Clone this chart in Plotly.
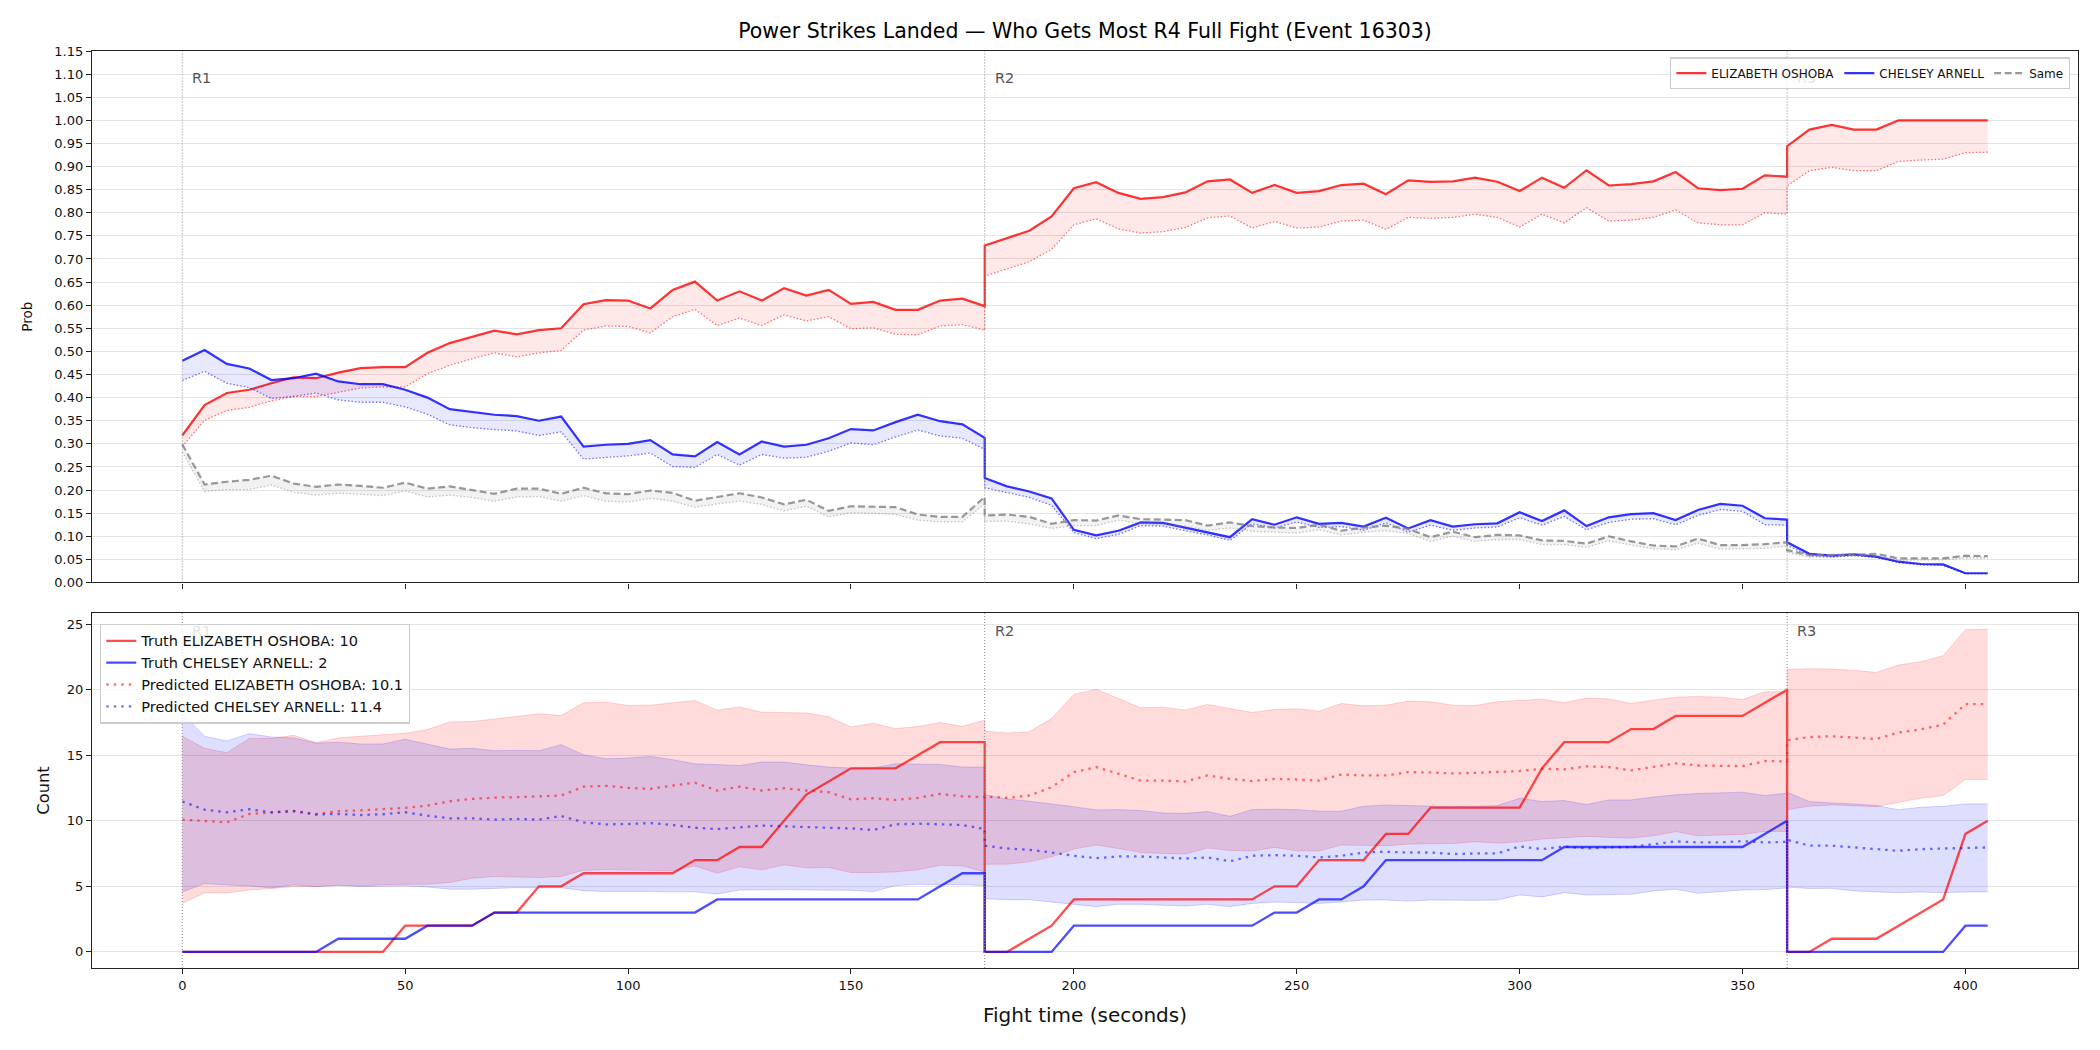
import plotly.graph_objects as go

# ---------------- time axis (seconds) per round ----------------
T_R1 = [0, 5, 10, 15, 20, 25, 30, 35, 40, 45, 50, 55, 60, 65, 70, 75, 80, 85, 90, 95, 100,
        105, 110, 115, 120, 125, 130, 135, 140, 145, 150, 155, 160, 165, 170, 175, 180]
T_R2 = [180, 185, 190, 195, 200, 205, 210, 215, 220, 225, 230, 235, 240, 245, 250, 255, 260,
        265, 270, 275, 280, 285, 290, 295, 300, 305, 310, 315, 320, 325, 330, 335, 340, 345,
        350, 355, 360]
T_R3 = [360, 365, 370, 375, 380, 385, 390, 395, 400, 405]
ROUND_STARTS = [0, 180, 360]
ROUND_LABELS = ["R1", "R2", "R3"]

RED_NAME = "ELIZABETH OSHOBA"
BLUE_NAME = "CHELSEY ARNELL"

# ---------------- top panel: probabilities ----------------
p_red_truth = ([0.318, 0.384, 0.410, 0.417, 0.431, 0.444, 0.442, 0.454, 0.464, 0.466, 0.466, 0.497,
                0.518, 0.531, 0.545, 0.537, 0.546, 0.550, 0.602, 0.611, 0.610, 0.593, 0.633, 0.651,
                0.610, 0.630, 0.610, 0.637, 0.621, 0.633, 0.603, 0.607, 0.590, 0.590, 0.610, 0.614, 0.598]
               + [0.729, 0.745, 0.761, 0.792, 0.853, 0.866, 0.843, 0.830, 0.834, 0.844, 0.868, 0.872,
                  0.843, 0.860, 0.843, 0.847, 0.860, 0.863, 0.840, 0.870, 0.867, 0.868, 0.876, 0.867,
                  0.847, 0.876, 0.854, 0.892, 0.859, 0.862, 0.868, 0.888, 0.853, 0.849, 0.852, 0.881, 0.878]
               + [0.944, 0.980, 0.990, 0.980, 0.980, 1.000, 1.000, 1.000, 1.000, 1.000])
p_red_pred = ([0.294, 0.351, 0.372, 0.379, 0.393, 0.402, 0.402, 0.412, 0.421, 0.423, 0.423, 0.452,
               0.470, 0.484, 0.497, 0.488, 0.497, 0.502, 0.546, 0.555, 0.554, 0.540, 0.575, 0.591,
               0.556, 0.572, 0.556, 0.579, 0.566, 0.575, 0.549, 0.551, 0.537, 0.536, 0.555, 0.558, 0.546]
              + [0.663, 0.678, 0.694, 0.721, 0.774, 0.787, 0.765, 0.756, 0.759, 0.768, 0.789, 0.793,
                 0.767, 0.781, 0.767, 0.769, 0.782, 0.784, 0.764, 0.790, 0.788, 0.790, 0.797, 0.790,
                 0.769, 0.797, 0.778, 0.811, 0.782, 0.784, 0.790, 0.806, 0.778, 0.774, 0.774, 0.800, 0.797]
              + [0.858, 0.891, 0.898, 0.891, 0.891, 0.911, 0.914, 0.916, 0.930, 0.931])
p_blue_truth = ([0.480, 0.503, 0.473, 0.463, 0.438, 0.442, 0.452, 0.435, 0.429, 0.429, 0.417, 0.400,
                 0.375, 0.369, 0.363, 0.360, 0.350, 0.359, 0.294, 0.298, 0.300, 0.308, 0.277, 0.273,
                 0.304, 0.277, 0.305, 0.294, 0.298, 0.312, 0.332, 0.329, 0.347, 0.363, 0.349, 0.342, 0.313]
                + [0.226, 0.208, 0.197, 0.182, 0.114, 0.102, 0.112, 0.130, 0.129, 0.119, 0.108, 0.098,
                   0.137, 0.125, 0.141, 0.127, 0.129, 0.121, 0.140, 0.117, 0.135, 0.121, 0.126, 0.128,
                   0.152, 0.133, 0.156, 0.122, 0.141, 0.148, 0.150, 0.135, 0.157, 0.170, 0.166, 0.139, 0.136]
                + [0.087, 0.062, 0.058, 0.061, 0.056, 0.045, 0.040, 0.039, 0.020, 0.020])
p_blue_pred = ([0.437, 0.457, 0.431, 0.422, 0.398, 0.403, 0.410, 0.395, 0.390, 0.390, 0.380, 0.364,
                0.341, 0.335, 0.331, 0.328, 0.318, 0.326, 0.267, 0.271, 0.274, 0.280, 0.251, 0.249,
                0.277, 0.254, 0.277, 0.269, 0.271, 0.284, 0.302, 0.298, 0.315, 0.330, 0.317, 0.312, 0.288]
               + [0.205, 0.195, 0.184, 0.167, 0.108, 0.095, 0.104, 0.123, 0.122, 0.112, 0.103, 0.091,
                  0.127, 0.118, 0.131, 0.119, 0.121, 0.113, 0.129, 0.109, 0.124, 0.113, 0.118, 0.120,
                  0.140, 0.124, 0.143, 0.114, 0.130, 0.137, 0.138, 0.125, 0.145, 0.158, 0.154, 0.125, 0.124]
               + [0.080, 0.058, 0.055, 0.058, 0.054, 0.043, 0.038, 0.037, 0.019, 0.019])
p_same_truth = ([0.299, 0.212, 0.218, 0.222, 0.231, 0.214, 0.207, 0.212, 0.209, 0.205, 0.216, 0.203,
                 0.208, 0.200, 0.192, 0.203, 0.203, 0.192, 0.205, 0.193, 0.191, 0.199, 0.194, 0.177,
                 0.185, 0.193, 0.184, 0.169, 0.179, 0.155, 0.165, 0.164, 0.163, 0.147, 0.142, 0.142, 0.185]
                + [0.145, 0.147, 0.142, 0.127, 0.135, 0.134, 0.145, 0.137, 0.136, 0.135, 0.123, 0.130,
                   0.122, 0.119, 0.118, 0.125, 0.112, 0.119, 0.123, 0.116, 0.098, 0.110, 0.098, 0.103,
                   0.102, 0.091, 0.090, 0.084, 0.100, 0.089, 0.080, 0.078, 0.095, 0.081, 0.081, 0.083, 0.087]
                + [0.070, 0.059, 0.059, 0.060, 0.062, 0.052, 0.052, 0.052, 0.058, 0.057])
p_same_pred = ([0.283, 0.197, 0.201, 0.201, 0.211, 0.195, 0.189, 0.193, 0.191, 0.188, 0.198, 0.185,
                0.189, 0.184, 0.176, 0.185, 0.186, 0.176, 0.188, 0.176, 0.174, 0.182, 0.176, 0.163,
                0.170, 0.176, 0.169, 0.155, 0.165, 0.142, 0.151, 0.150, 0.147, 0.135, 0.131, 0.131, 0.170]
               + [0.132, 0.133, 0.127, 0.117, 0.123, 0.123, 0.135, 0.127, 0.124, 0.122, 0.113, 0.118,
                  0.111, 0.109, 0.107, 0.114, 0.103, 0.109, 0.112, 0.106, 0.089, 0.100, 0.089, 0.093,
                  0.093, 0.082, 0.082, 0.076, 0.090, 0.081, 0.073, 0.071, 0.085, 0.072, 0.073, 0.074, 0.079]
               + [0.065, 0.055, 0.055, 0.058, 0.057, 0.048, 0.049, 0.049, 0.053, 0.053])

# ---------------- bottom panel: counts ----------------
c_red_truth = ([0, 0, 0, 0, 0, 0, 0, 0, 0, 0, 2, 2, 2, 2, 3, 3, 5, 5, 6, 6, 6, 6, 6, 7, 7, 8, 8, 10,
                12, 13, 14, 14, 14, 15, 16, 16, 16]
               + [0, 0, 1, 2, 4, 4, 4, 4, 4, 4, 4, 4, 4, 5, 5, 7, 7, 7, 9, 9, 11, 11, 11, 11, 11, 14,
                  16, 16, 16, 17, 17, 18, 18, 18, 18, 19, 20]
               + [0, 0, 1, 1, 1, 2, 3, 4, 9, 10])
c_blue_truth = ([0, 0, 0, 0, 0, 0, 0, 1, 1, 1, 1, 2, 2, 2, 3, 3, 3, 3, 3, 3, 3, 3, 3, 3, 4, 4, 4, 4,
                 4, 4, 4, 4, 4, 4, 5, 6, 6]
                + [0, 0, 0, 0, 2, 2, 2, 2, 2, 2, 2, 2, 2, 3, 3, 4, 4, 5, 7, 7, 7, 7, 7, 7, 7, 7, 8,
                   8, 8, 8, 8, 8, 8, 8, 8, 9, 10]
                + [0, 0, 0, 0, 0, 0, 0, 0, 2, 2])
c_red_pred = ([10.09, 10.0, 9.88, 10.52, 10.65, 10.75, 10.52, 10.73, 10.80, 10.9, 10.98, 11.16, 11.49,
               11.67, 11.77, 11.8, 11.87, 11.93, 12.6, 12.67, 12.51, 12.44, 12.69, 12.9, 12.31, 12.6,
               12.31, 12.49, 12.31, 12.18, 11.64, 11.72, 11.59, 11.75, 12.05, 11.87, 11.8]
              + [11.85, 11.75, 11.93, 12.56, 13.71, 14.1, 13.59, 13.07, 13.07, 13.0, 13.46, 13.2, 13.02,
                 13.2, 13.15, 13.07, 13.53, 13.46, 13.46, 13.71, 13.69, 13.61, 13.66, 13.71, 13.79,
                 13.97, 13.92, 14.15, 14.1, 13.84, 14.1, 14.38, 14.22, 14.22, 14.17, 14.56, 14.53]
              + [16.14, 16.39, 16.45, 16.37, 16.24, 16.73, 16.98, 17.34, 18.9, 18.9])
c_blue_pred = ([11.47, 10.85, 10.65, 10.88, 10.65, 10.73, 10.47, 10.52, 10.44, 10.5, 10.65, 10.39,
                10.19, 10.19, 10.09, 10.14, 10.09, 10.37, 9.88, 9.73, 9.75, 9.83, 9.68, 9.47, 9.37,
                9.5, 9.63, 9.58, 9.5, 9.47, 9.42, 9.3, 9.73, 9.78, 9.73, 9.68, 9.37]
               + [8.1, 7.89, 7.79, 7.58, 7.33, 7.15, 7.28, 7.28, 7.18, 7.12, 7.2, 6.92, 7.33, 7.38,
                  7.33, 7.2, 7.33, 7.58, 7.64, 7.58, 7.58, 7.46, 7.51, 7.51, 8.04, 7.84, 8.04, 7.89,
                  7.97, 7.99, 8.22, 8.43, 8.35, 8.35, 8.45, 8.35, 8.4]
               + [8.55, 8.1, 8.1, 7.97, 7.84, 7.71, 7.84, 7.89, 7.97, 7.97])
c_red_hi = ([16.45, 15.53, 15.19, 16.27, 16.29, 16.52, 15.96, 16.32, 16.45, 16.57, 16.68, 16.96,
             17.54, 17.57, 17.75, 17.93, 18.16, 18.03, 19.0, 19.05, 18.8, 18.82, 19.0, 19.18, 18.44,
             18.69, 18.28, 18.28, 18.23, 17.93, 17.16, 17.44, 17.03, 17.19, 17.49, 17.21, 17.67]
            + [16.83, 16.7, 16.8, 17.8, 19.64, 20.02, 19.33, 18.62, 18.67, 18.44, 18.87, 18.56, 18.26,
               18.49, 18.54, 18.36, 18.95, 18.77, 18.82, 19.13, 19.08, 18.82, 18.8, 19.08, 19.18,
               19.28, 19.0, 19.36, 19.3, 18.95, 19.2, 19.43, 19.48, 19.43, 19.25, 19.84, 19.84]
            + [21.55, 21.6, 21.58, 21.48, 21.32, 21.88, 22.14, 22.6, 24.57, 24.62])
c_red_lo = ([3.70, 4.52, 4.49, 4.72, 4.83, 4.98, 4.98, 5.08, 5.03, 5.13, 5.16, 5.16, 5.29, 5.62,
             5.75, 5.69, 5.67, 5.75, 6.23, 6.28, 6.23, 6.2, 6.18, 6.56, 6.0, 6.49, 6.26, 6.64, 6.41,
             6.44, 6.05, 6.05, 6.1, 6.26, 6.61, 6.56, 6.1]
            + [6.69, 6.69, 6.87, 7.25, 7.84, 8.15, 7.89, 7.58, 7.51, 7.46, 7.92, 7.74, 7.69, 7.97,
               7.71, 7.69, 8.15, 8.15, 8.1, 8.22, 8.22, 8.27, 8.4, 8.3, 8.4, 8.61, 8.71, 8.81, 8.73,
               8.68, 8.86, 9.17, 8.86, 8.91, 8.96, 9.19, 9.19]
            + [10.85, 11.11, 11.21, 11.16, 11.08, 11.41, 11.72, 11.93, 13.15, 13.15])
c_blue_hi = ([18.18, 16.45, 16.09, 16.65, 16.39, 16.32, 15.93, 15.99, 15.86, 15.86, 16.22, 15.86,
              15.47, 15.53, 15.35, 15.37, 15.35, 15.81, 15.04, 14.73, 14.79, 14.91, 14.66, 14.35,
              14.3, 14.22, 14.48, 14.48, 14.27, 14.1, 14.02, 14.04, 14.35, 14.35, 14.3, 14.1, 14.1]
             + [11.98, 11.67, 11.49, 11.29, 11.08, 10.83, 10.85, 10.78, 10.6, 10.57, 10.7, 10.34,
                10.85, 10.88, 10.85, 10.73, 10.73, 11.11, 11.21, 11.16, 11.11, 11.08, 11.11, 11.16,
                11.72, 11.47, 11.54, 11.24, 11.59, 11.59, 11.82, 11.98, 12.08, 12.13, 12.18, 11.93, 12.1]
             + [12.18, 11.47, 11.36, 11.29, 11.16, 10.85, 11.03, 11.11, 11.29, 11.29])
c_blue_lo = ([4.57, 5.21, 5.11, 5.03, 4.88, 5.11, 4.98, 5.08, 4.98, 5.0, 5.03, 4.95, 4.78, 4.78,
              4.83, 4.9, 4.88, 4.9, 4.67, 4.6, 4.6, 4.6, 4.6, 4.58, 4.42, 4.72, 4.72, 4.75, 4.72,
              4.72, 4.7, 4.6, 5.06, 5.16, 5.11, 5.13, 5.06]
             + [4.06, 3.98, 3.98, 3.8, 3.63, 3.45, 3.63, 3.63, 3.55, 3.5, 3.63, 3.45, 3.7, 3.8, 3.75,
                3.7, 3.8, 3.96, 3.96, 3.88, 3.96, 3.93, 3.93, 3.96, 4.34, 4.19, 4.52, 4.34, 4.34,
                4.39, 4.65, 4.78, 4.47, 4.62, 4.72, 4.75, 4.88]
             + [4.95, 4.83, 4.85, 4.65, 4.57, 4.52, 4.57, 4.52, 4.57, 4.57])

RED_TRUTH_FINAL = 10
BLUE_TRUTH_FINAL = 2
RED_PRED_LABEL = 10.1
BLUE_PRED_LABEL = 11.4

T = T_R1 + T_R2 + T_R3
FONT = "DejaVu Sans"

fig = go.Figure()

# ---- top panel ----
def prob_series(truth, pred, color_line, color_pred, color_fill, name, truth_dash, truth_w):
    fig.add_trace(go.Scatter(x=T, y=pred, mode="lines", xaxis="x", yaxis="y",
                             line=dict(color=color_pred, width=1.3, dash="1.5px,2px"),
                             showlegend=False, hoverinfo="skip"))
    fig.add_trace(go.Scatter(x=T, y=truth, mode="lines", xaxis="x", yaxis="y",
                             line=dict(width=0), fill="tonexty", fillcolor=color_fill,
                             showlegend=False, hoverinfo="skip"))
    fig.add_trace(go.Scatter(x=T, y=truth, mode="lines", xaxis="x", yaxis="y", name=name,
                             line=dict(color=color_line, width=truth_w, dash=truth_dash),
                             legend="legend"))

prob_series(p_red_truth, p_red_pred, "rgba(255,0,0,0.8)", "rgba(255,0,0,0.55)",
            "rgba(255,0,0,0.09)", RED_NAME, "solid", 2.2)
prob_series(p_blue_truth, p_blue_pred, "rgba(0,0,255,0.8)", "rgba(0,0,255,0.55)",
            "rgba(0,0,255,0.09)", BLUE_NAME, "solid", 2.2)
prob_series(p_same_truth, p_same_pred, "rgba(128,128,128,0.8)", "rgba(128,128,128,0.45)",
            "rgba(128,128,128,0.1)", "Same", "7px,3.5px", 2.2)

# ---- bottom panel ----
def band(lo, hi, rgba_edge, rgba_fill):
    fig.add_trace(go.Scatter(x=T, y=lo, mode="lines", xaxis="x2", yaxis="y2",
                             line=dict(color=rgba_edge, width=1), showlegend=False, hoverinfo="skip"))
    fig.add_trace(go.Scatter(x=T, y=hi, mode="lines", xaxis="x2", yaxis="y2",
                             line=dict(color=rgba_edge, width=1), fill="tonexty",
                             fillcolor=rgba_fill, showlegend=False, hoverinfo="skip"))

band(c_red_lo, c_red_hi, "rgba(255,0,0,0.16)", "rgba(255,0,0,0.14)")
band(c_blue_lo, c_blue_hi, "rgba(0,0,255,0.16)", "rgba(0,0,255,0.13)")

fig.add_trace(go.Scatter(x=T, y=c_red_truth, mode="lines", xaxis="x2", yaxis="y2",
                         name=f"Truth {RED_NAME}: {RED_TRUTH_FINAL}",
                         line=dict(color="rgba(255,0,0,0.7)", width=2.3), legend="legend2"))
fig.add_trace(go.Scatter(x=T, y=c_blue_truth, mode="lines", xaxis="x2", yaxis="y2",
                         name=f"Truth {BLUE_NAME}: {BLUE_TRUTH_FINAL}",
                         line=dict(color="rgba(0,0,255,0.7)", width=2.3), legend="legend2"))
fig.add_trace(go.Scatter(x=T, y=c_red_pred, mode="lines", xaxis="x2", yaxis="y2",
                         name=f"Predicted {RED_NAME}: {RED_PRED_LABEL}",
                         line=dict(color="rgba(255,0,0,0.55)", width=2.3, dash="2.5px,5px"),
                         legend="legend2"))
fig.add_trace(go.Scatter(x=T, y=c_blue_pred, mode="lines", xaxis="x2", yaxis="y2",
                         name=f"Predicted {BLUE_NAME}: {BLUE_PRED_LABEL}",
                         line=dict(color="rgba(0,0,255,0.55)", width=2.3, dash="2.5px,5px"),
                         legend="legend2"))

# ---- round markers ----
shapes = []
annotations = []
for yref_dom, xr in (("y domain", "x"), ("y2 domain", "x2")):
    for rs, rl in zip(ROUND_STARTS, ROUND_LABELS):
        shapes.append(dict(type="line", xref=xr, yref=yref_dom, x0=rs, x1=rs, y0=0, y1=1,
                           line=dict(color="#888888", width=1, dash="1px,2px"), layer="above"))
        hidden = (xr == "x" and rl == "R3") or (xr == "x2" and rl == "R1")
        annotations.append(dict(xref=xr, yref=yref_dom, x=rs + 1.8, y=0.95, text=rl,
                                showarrow=False, xanchor="left", yanchor="middle",
                                font=dict(family=FONT, size=14.5,
                                          color="rgba(85,85,85,0.18)" if hidden else "#555555")))

axis_common = dict(showline=True, mirror=True, linecolor="#222222", linewidth=1.3,
                   ticks="outside", ticklen=5, tickwidth=1.2, tickcolor="#222222",
                   zeroline=False, tickfont=dict(family=FONT, size=13, color="#111111"))

fig.update_layout(
    width=2100, height=1050,
    margin=dict(l=92, r=22, t=51, b=82),
    paper_bgcolor="white", plot_bgcolor="white",
    font=dict(family=FONT, color="#111111"),
    title=dict(text="Power Strikes Landed \u2014 Who Gets Most R4 Full Fight (Event 16303)",
               x=0.5, xref="paper", xanchor="center", y=1 - 31 / 1050, yref="container",
               yanchor="middle", font=dict(family=FONT, size=20.5, color="#000000")),
    xaxis=dict(domain=[0, 1], anchor="y", range=[-20.25, 425.25],
               tickvals=[0, 50, 100, 150, 200, 250, 300, 350, 400], showticklabels=False,
               showgrid=False, **axis_common),
    yaxis=dict(domain=[0.4204, 1], anchor="x", range=[0, 1.15], dtick=0.05, tick0=0,
               tickformat=".2f", showgrid=True, gridcolor="#e4e4e4", gridwidth=1,
               title=dict(text="Prob", font=dict(family=FONT, size=13.5), standoff=18),
               **axis_common),
    xaxis2=dict(domain=[0, 1], anchor="y2", range=[-20.25, 425.25],
                tickvals=[0, 50, 100, 150, 200, 250, 300, 350, 400], showgrid=False,
                title=dict(text="Fight time (seconds)", font=dict(family=FONT, size=20), standoff=16),
                **axis_common),
    yaxis2=dict(domain=[0, 0.3871], anchor="x2", range=[-1.23, 25.85],
                tickvals=[0, 5, 10, 15, 20, 25], showgrid=True, gridcolor="#e4e4e4", gridwidth=1,
                title=dict(text="Count", font=dict(family=FONT, size=16.3), standoff=12),
                **axis_common),
    legend=dict(orientation="h", x=0.996, xanchor="right", y=0.993, yanchor="top",
                traceorder="normal",
                bgcolor="rgba(255,255,255,0.8)", bordercolor="#cccccc", borderwidth=1.3,
                font=dict(family=FONT, size=12, color="#111111"), itemwidth=30),
    legend2=dict(orientation="v", x=0.004, xanchor="left", y=0.3756, yanchor="top",
                 traceorder="normal",
                 bgcolor="rgba(255,255,255,0.8)", bordercolor="#cccccc", borderwidth=1.3,
                 font=dict(family=FONT, size=14.5, color="#111111"), tracegroupgap=0),
    shapes=shapes,
    annotations=annotations,
)

fig.write_html("out.html")
